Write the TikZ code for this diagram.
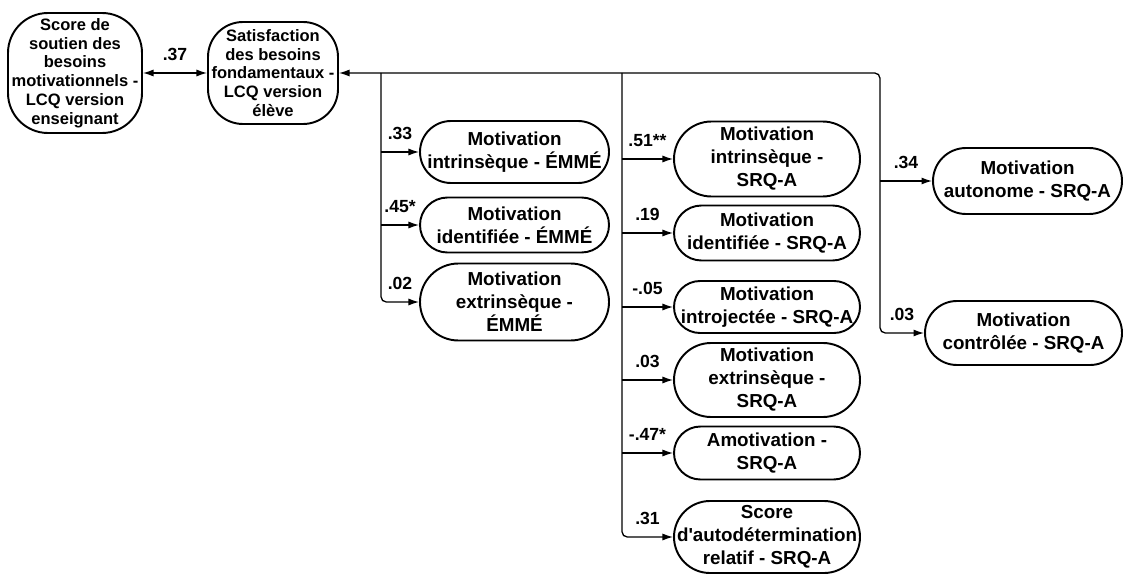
\documentclass[tikz,border=0pt]{standalone}
\usepackage{fontspec}
\setmainfont{Liberation Sans}
\usetikzlibrary{arrows.meta}
\tikzset{
  bx/.style={draw, line width=1.1pt, align=center, inner sep=0pt, rounded corners=#1,
    font=\bfseries\fontsize{10.7}{13.1}\selectfont},
  bx/.default=0.5cm,
  smallbx/.style={bx=#1, font=\bfseries\fontsize{9.4}{10.7}\selectfont},
  lab/.style={above, inner sep=6.5pt, font=\bfseries\fontsize{10}{12}\selectfont}
}
\begin{document}
\begin{tikzpicture}[line width=0.75pt, >={Latex[length=6pt,width=4pt]}]
    \useasboundingbox (0, 0) rectangle (22.52, 11.48);
    \node[smallbx=0.8cm, minimum width=2.68cm, minimum height=2.4cm] (1) at (1.5, 10.02)
      {Score de\\soutien des\\besoins\\motivationnels -\\LCQ version\\enseignant};
    \node[smallbx=0.7cm, minimum width=2.6cm, minimum height=2.04cm] (2) at (5.46, 10.02)
      {Satisfaction\\des besoins\\fondamentaux -\\LCQ version\\élève};
    \node[bx=0.62cm, minimum width=3.78cm, minimum height=1.24cm] (3) at (10.29, 8.44)
      {Motivation\\intrinsèque - ÉMMÉ};
    \node[bx=0.55cm, minimum width=3.78cm, minimum height=1.1cm] (4) at (10.29, 6.98)
      {Motivation\\identifiée - ÉMMÉ};
    \node[bx=0.77cm, minimum width=3.78cm, minimum height=1.54cm] (5) at (10.29, 5.44)
      {Motivation\\extrinsèque -\\ÉMMÉ};
    \node[bx=0.75cm, minimum width=3.72cm, minimum height=1.5cm] (6) at (15.34, 8.3)
      {Motivation\\intrinsèque -\\SRQ-A};
    \node[bx=0.55cm, minimum width=3.72cm, minimum height=1.1cm] (7) at (15.34, 6.82)
      {Motivation\\identifiée - SRQ-A};
    \node[bx=0.52cm, minimum width=3.72cm, minimum height=1.04cm] (8) at (15.34, 5.34)
      {Motivation\\introjectée - SRQ-A};
    \node[bx=0.74cm, minimum width=3.72cm, minimum height=1.48cm] (9) at (15.34, 3.88)
      {Motivation\\extrinsèque -\\SRQ-A};
    \node[bx=0.53cm, minimum width=3.72cm, minimum height=1.06cm] (10) at (15.34, 2.42)
      {Amotivation -\\SRQ-A};
    \node[bx=0.72cm, minimum width=3.72cm, minimum height=1.44cm] (11) at (15.34, 0.74)
      {Score\\d\textquotesingle autodétermination\\relatif - SRQ-A};
    \node[bx=0.66cm, minimum width=3.78cm, minimum height=1.32cm] (12) at (20.55, 7.86)
      {Motivation\\autonome - SRQ-A};
    \node[bx=0.64cm, minimum width=3.94cm, minimum height=1.28cm] (13) at (20.47, 4.82)
      {Motivation\\contrôlée - SRQ-A};
    \coordinate (21) at (7.62, 10.02);
    \coordinate (22) at (12.44, 10.02);
    \coordinate (23) at (17.6, 10.02);
    \draw [<->] (1.east |- 2) to node[lab] {.37} (2);
    \draw [<->, rounded corners=3pt] (2) -- (23) |- node[lab, pos=0.75] {.03} (13);
    \draw [->] (23 |- 12) to node[lab] {.34} (12);
    \draw [->, rounded corners=3pt] (21) |- node[lab, pos=0.75] {.02} (5);
    \draw [->] (21 |- 3) to node[lab] {.33} (3);
    \draw [->] (21 |- 4) to node[lab] {.45*} (4);
    \draw [->, rounded corners=3pt] (22) |- node[lab, pos=0.75] {.31} (11);
    \draw [->] (22 |- 6) to node[lab] {.51**} (6);
    \draw [->] (22 |- 7) to node[lab] {.19} (7);
    \draw [->] (22 |- 8) to node[lab] {-.05} (8);
    \draw [->] (22 |- 9) to node[lab] {.03} (9);
    \draw [->] (22 |- 10) to node[lab] {-.47*} (10);
  \end{tikzpicture}
\end{document}
